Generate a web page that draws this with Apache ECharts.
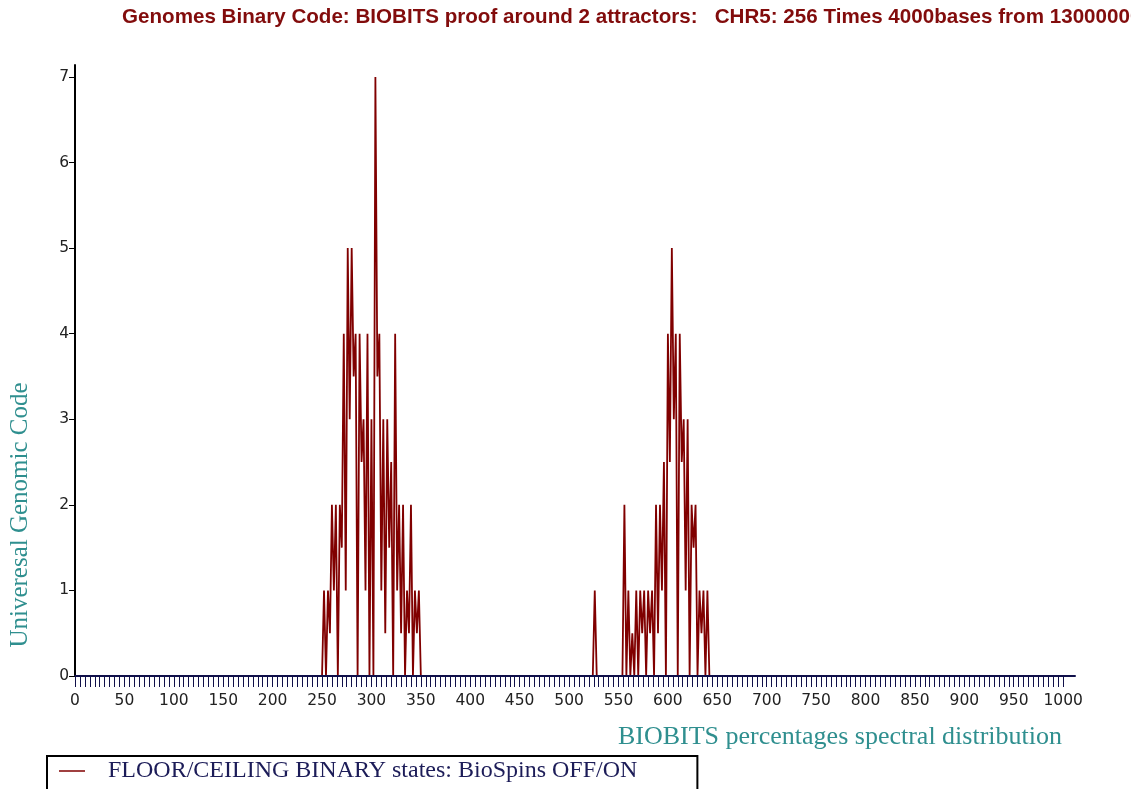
<!DOCTYPE html>
<html>
<head>
<meta charset="utf-8">
<script src="https://cdn.jsdelivr.net/npm/echarts@6/dist/echarts.min.js"></script>
<style>
html,body{margin:0;padding:0;background:#fff;}
#chart{width:1131px;height:789px;}
</style>
</head>
<body>
<div id="chart"></div>
<script>
// ---- data ----
const chartTitle = 'Genomes Binary Code: BIOBITS proof around 2 attractors:   CHR5: 256 Times 4000bases from 13000000';
const seriesName = 'FLOOR/CEILING BINARY states: BioSpins OFF/ON';
const xAxisTitle = 'BIOBITS percentages spectral distribution';
const yAxisTitle = 'Univeresal Genomic Code';

const xTickLabels = [0,50,100,150,200,250,300,350,400,450,500,550,600,650,700,750,800,850,900,950,1000];
const yTickLabels = [0,1,2,3,4,5,6,7];

const baselineX = [0, 1000];
const baselineY = [0, 0];

const attractorOneX = [250,252,254,256,258,260,262,264,266,268,270,272,274,276,278,280,282,284,286,288,290,292,294,296,298,300,302,304,306,308,310,312,314,316,318,320,322,324,326,328,330,332,334,336,338,340,342,344,346,348,350];
const attractorOneY = [0,1,0,1,0.5,2,1,2,0,2,1.5,4,1,5,3,5,3.5,4,0,4,2.5,3,1,4,0,3,0,7,3.5,4,1,3,0.5,3,1.5,2.5,0,4,1,2,0.5,2,0,1,0.5,2,0,1,0.5,1,0];

const attractorTwoX = [524,526,528,554,556,558,560,562,564,566,568,570,572,574,576,578,580,582,584,586,588,590,592,594,596,598,600,602,604,606,608,610,612,614,616,618,620,622,624,626,628,630,632,634,636,638,640,642];
const attractorTwoY = [0,1,0,0,2,0,1,0,0.5,0,1,0,1,0.5,1,0,1,0.5,1,0,2,0.5,2,1,2.5,0,4,2.5,5,3,4,0,4,2.5,3,1,3,0,2,1.5,2,0,1,0.5,1,0,1,0];

// ---- build line vertices ----
const points = [];
points.push([baselineX[0], baselineY[0]]);
attractorOneX.forEach((x, i) => points.push([x, attractorOneY[i]]));
attractorTwoX.forEach((x, i) => points.push([x, attractorTwoY[i]]));
points.push([baselineX[1], baselineY[1]]);

const minorTickValues = [];
for (let v = 0; v <= 1000; v += 5) minorTickValues.push(v);

const chart = echarts.init(document.getElementById('chart'), null, {renderer: 'canvas'});
const teal = '#2f8f8f';
chart.setOption({
  backgroundColor: '#ffffff',
  animation: false,
  title: {
    text: chartTitle,
    left: 122,
    top: 7,
    padding: 0,
    textStyle: {fontFamily: 'Liberation Sans', fontWeight: 'bold', fontSize: 20.6, color: '#820c0c'}
  },
  grid: {left: 75, right: 56, top: 65, bottom: 113, containLabel: false},
  legend: {
    data: [{name: seriesName, icon: 'rect'}],
    left: 47,
    top: 756,
    orient: 'horizontal',
    padding: [3, 60, 40, 12],
    borderColor: '#000',
    borderWidth: 2,
    itemWidth: 26,
    itemHeight: 1.5,
    selectedMode: false,
    itemStyle: {color: '#800000'},
    textStyle: {fontFamily: 'Liberation Serif', fontSize: 24, color: '#1c1c58', padding: [0, 0, 0, 18]}
  },
  xAxis: {
    type: 'value',
    min: 0,
    max: 1012,
    z: 5,
    splitLine: {show: false},
    axisLine: {show: true, onZero: false, lineStyle: {color: '#10104a', width: 2}},
    axisTick: {show: true, customValues: minorTickValues, length: 11, lineStyle: {color: '#10104a', width: 1}},
    axisLabel: {customValues: xTickLabels, margin: 17, fontFamily: 'DejaVu Sans', fontSize: 15.5, color: '#222', formatter: v => String(v)}
  },
  yAxis: {
    type: 'value',
    min: 0,
    max: 7.14,
    z: 5,
    splitLine: {show: false},
    axisLine: {show: true, onZero: false, lineStyle: {color: '#000', width: 2}},
    axisTick: {show: true, customValues: yTickLabels, length: 6, lineStyle: {color: '#000', width: 1}},
    axisLabel: {customValues: yTickLabels, margin: 6, fontFamily: 'DejaVu Sans', fontSize: 15.5, color: '#222'}
  },
  series: [{
    name: seriesName,
    type: 'line',
    data: points,
    symbol: 'none',
    showSymbol: false,
    lineStyle: {color: '#800000', width: 1.8},
    itemStyle: {color: '#800000'},
    z: 2
  }],
  graphic: [
    {
      type: 'text',
      x: 20,
      y: 515,
      rotation: Math.PI / 2,
      style: {text: yAxisTitle, fontFamily: 'Liberation Serif', fontSize: 25, fill: teal, align: 'center', verticalAlign: 'middle'}
    },
    {
      type: 'text',
      x: 1062,
      y: 737,
      style: {text: xAxisTitle, fontFamily: 'Liberation Serif', fontSize: 26, fill: teal, align: 'right', verticalAlign: 'middle'}
    }
  ]
});
</script>
</body>
</html>
